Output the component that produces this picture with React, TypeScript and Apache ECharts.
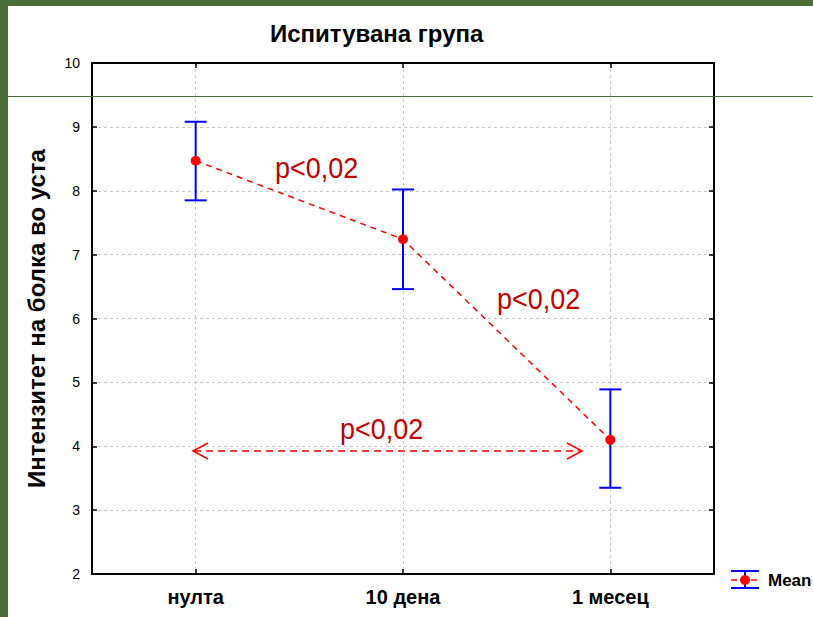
import React, { useEffect, useRef } from "react";
import * as echarts from "echarts";

const categories = ["нулта", "10 дена", "1 месец"];
const means = [8.47, 7.24, 4.1];
const lowerBounds = [7.85, 6.46, 3.35];
const upperBounds = [9.08, 8.02, 4.89];
const yTicks = { min: 2, max: 10, interval: 1 };

const FONT = "Liberation Sans, Arial, sans-serif";
const GREEN = "#4a6e3a";
const DARKRED = "#c00000";

export default function App() {
  const ref = useRef<HTMLDivElement>(null);
  useEffect(() => {
    if (!ref.current) return;
    const chart = echarts.init(ref.current, null, { renderer: "svg" });
    const errData = categories.map((_, i) => [i, lowerBounds[i], upperBounds[i]]);
    const axisLine = { show: true, lineStyle: { color: "#000", width: 2 } };
    const split = { show: true, alignWithLabel: true, lineStyle: { color: "#c8c8c8", type: [3, 3] as any, width: 1 } };
    const pText = (x: number, y: number) => ({
      type: "text",
      x,
      y,
      scaleX: 0.9,
      z: 50,
      style: {
        text: "p<0,02",
        fill: DARKRED,
        font: `30px ${FONT}`,
        textVerticalAlign: "middle",
        verticalAlign: "middle",
      },
    });
    const redDash = { stroke: "#ff0000", lineWidth: 1.5, fill: "none" };
    chart.setOption({
      animation: false,
      backgroundColor: "#fff",
      textStyle: { fontFamily: FONT },
      title: {
        text: "Испитувана група",
        left: 265,
        top: 16,
        textStyle: { fontSize: 24, fontWeight: "bold", color: "#000", fontFamily: FONT },
      },
      grid: { left: 92, right: 99, top: 63, bottom: 43 },
      xAxis: [
        {
          type: "category",
          data: categories,
          boundaryGap: true,
          axisLine,
          axisTick: { show: true, inside: true, alignWithLabel: true, length: 5, lineStyle: { color: "#000", width: 1.5 } },
          axisLabel: { color: "#000", fontSize: 20, fontWeight: "bold", margin: 13, fontFamily: FONT },
          splitLine: split,
        },
        {
          type: "category",
          data: categories,
          position: "top",
          boundaryGap: true,
          axisLine,
          axisTick: { show: true, inside: true, alignWithLabel: true, length: 5, lineStyle: { color: "#000", width: 1.5 } },
          axisLabel: { show: false },
          splitLine: { show: false },
        },
      ],
      yAxis: [
        {
          type: "value",
          min: yTicks.min,
          max: yTicks.max,
          interval: yTicks.interval,
          axisLine,
          axisTick: { show: true, inside: true, length: 5, lineStyle: { color: "#000", width: 1.5 } },
          axisLabel: { color: "#000", fontSize: 14, margin: 12, fontFamily: FONT },
          splitLine: split,
          name: "Интензитет на болка во уста",
          nameLocation: "middle",
          nameGap: 44,
          nameTextStyle: { fontSize: 24, fontWeight: "bold", color: "#000", fontFamily: FONT },
        },
        {
          type: "value",
          position: "right",
          min: yTicks.min,
          max: yTicks.max,
          interval: yTicks.interval,
          axisLine,
          axisTick: { show: true, inside: true, length: 5, lineStyle: { color: "#000", width: 1.5 } },
          axisLabel: { show: false },
          splitLine: { show: false },
        },
      ],
      series: [
        {
          type: "custom",
          name: "err",
          xAxisIndex: 0,
          yAxisIndex: 0,
          data: errData,
          z: 3,
          renderItem: (params: any, api: any) => {
            const x = api.value(0);
            const lo = api.coord([x, api.value(1)]);
            const hi = api.coord([x, api.value(2)]);
            const hw = 11;
            const st = { stroke: "#0000ff", lineWidth: 2 };
            return {
              type: "group",
              children: [
                { type: "line", shape: { x1: hi[0], y1: hi[1], x2: lo[0], y2: lo[1] }, style: st },
                { type: "line", shape: { x1: hi[0] - hw, y1: hi[1], x2: hi[0] + hw, y2: hi[1] }, style: st },
                { type: "line", shape: { x1: lo[0] - hw, y1: lo[1], x2: lo[0] + hw, y2: lo[1] }, style: st },
              ],
            };
          },
        },
        {
          type: "line",
          name: "Mean",
          data: means,
          z: 4,
          symbol: "circle",
          symbolSize: 10,
          itemStyle: { color: "#ff0000" },
          lineStyle: { color: "#ff0000", width: 1.5, type: [6, 5] as any },
        },
      ],
      graphic: [
        { type: "rect", shape: { x: 0, y: 0, width: 813, height: 6 }, style: { fill: GREEN }, z: 100 },
        { type: "rect", shape: { x: 0, y: 0, width: 8, height: 617 }, style: { fill: GREEN }, z: 100 },
        { type: "line", shape: { x1: 8, y1: 96.5, x2: 813, y2: 96.5 }, style: { stroke: GREEN, lineWidth: 1 }, z: 100 },
        pText(275, 167),
        pText(497, 298),
        pText(340, 428),
        { type: "line", z: 50, shape: { x1: 194, y1: 451, x2: 582, y2: 451 }, style: { ...redDash, lineDash: [7, 5] } },
        { type: "polyline", z: 50, shape: { points: [[208, 443], [193, 451], [208, 459]] }, style: redDash },
        { type: "polyline", z: 50, shape: { points: [[567, 443], [582, 451], [567, 459]] }, style: redDash },
        // legend
        { type: "line", z: 50, shape: { x1: 731, y1: 571, x2: 759, y2: 571 }, style: { stroke: "#0000ff", lineWidth: 2 } },
        { type: "line", z: 50, shape: { x1: 731, y1: 588, x2: 759, y2: 588 }, style: { stroke: "#0000ff", lineWidth: 2 } },
        { type: "line", z: 50, shape: { x1: 745, y1: 571, x2: 745, y2: 588 }, style: { stroke: "#0000ff", lineWidth: 2 } },
        { type: "line", z: 51, shape: { x1: 731, y1: 580, x2: 759, y2: 580 }, style: { stroke: "#ff0000", lineWidth: 1.5, lineDash: [6, 4] } },
        { type: "circle", z: 52, shape: { cx: 745, cy: 580, r: 5 }, style: { fill: "#ff0000" } },
        {
          type: "text",
          z: 50,
          x: 768,
          y: 580,
          style: { text: "Mean", fill: "#000", font: `bold 17px ${FONT}`, verticalAlign: "middle", textVerticalAlign: "middle" },
        },
      ],
    });
    return () => chart.dispose();
  }, []);
  return (
    <div
      ref={ref}
      style={{ position: "absolute", left: 0, top: 0, width: 813, height: 617, background: "#fff" }}
    />
  );
}
